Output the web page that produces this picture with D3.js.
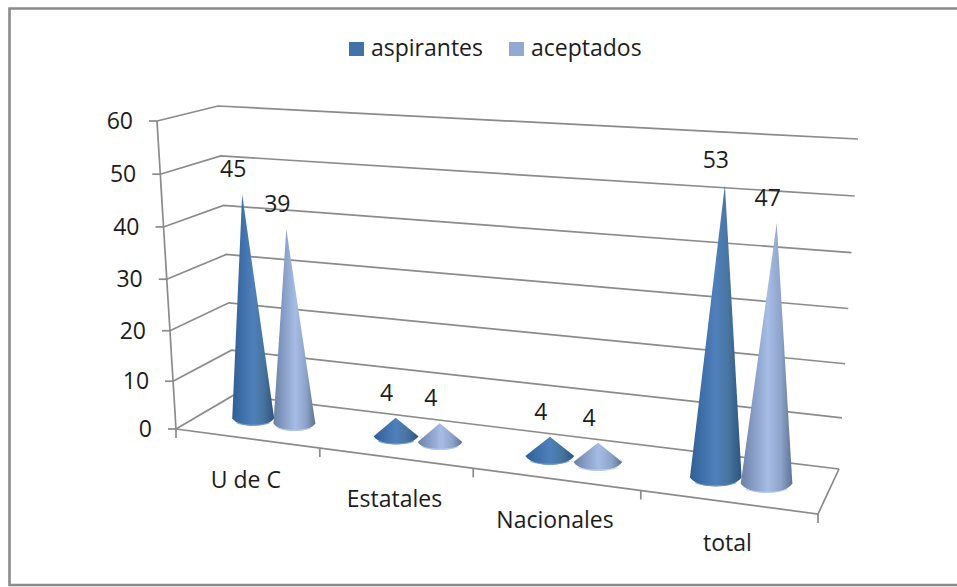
<!DOCTYPE html>
<html lang="es">
<head>
<meta charset="utf-8">
<title>Aspirantes y aceptados</title>
<script src="https://cdn.jsdelivr.net/npm/d3@7"></script>
<style>
  html, body { margin: 0; padding: 0; background: #fff; }
  svg { display: block; }
  text { font-family: "Open Sans", Lato, sans-serif; fill: #1c1c1c; }
</style>
</head>
<body>
<div id="chart"></div>
<script>
// Chart data
const categories = ["U de C", "Estatales", "Nacionales", "total"];
const seriesNames = ["aspirantes", "aceptados"];
const aspirantes = [45, 4, 4, 53];
const aceptados = [39, 4, 4, 47];
const valueTicks = [0, 10, 20, 30, 40, 50, 60];
const legendColors = ["#4272a9", "#92a9d2"];

const width = 957, height = 587;
const fontSize = 23;

const svg = d3.select("#chart").append("svg")
  .attr("width", width).attr("height", height);

// Corners of the 3D plot box: [floor, ceiling] on each vertical edge
const corners = {
  frontLeft:  [[176, 429], [157, 121]],
  frontRight: [[818, 514], [832, 164]],
  backLeft:   [[234, 395], [218, 106]],
  backRight:  [[839, 469], [858, 139]]
};

// Scales in box space: the category axis and value axis are foreshortened
const catScale = d3.scaleLinear().domain([0, 1, 2, 3, 4]).range([0, 0.224, 0.463, 0.724, 1]);
const valueScale = d3.scalePow().exponent(1.04).domain([0, 60]).range([0, 1]);

const lerp = (a, b, t) => a + (b - a) * t;
const lerpPt = (p, q, t) => [lerp(p[0], q[0], t), lerp(p[1], q[1], t)];

// Projects (category position, depth, value) to the screen
function project(cat, depth, value) {
  const u = catScale(cat), w = valueScale(value);
  const level = i => lerpPt(
    lerpPt(corners.frontLeft[i], corners.frontRight[i], u),
    lerpPt(corners.backLeft[i], corners.backRight[i], u),
    depth);
  return lerpPt(level(0), level(1), w);
}

const lineColor = "#8b8b8b";
const pathOf = d3.line();

// Outer frame, running off the right-hand side of the page
svg.append("path")
  .attr("d", pathOf([[width + 4, 8.5], [9.5, 8.5], [9.5, 585], [width + 4, 585]]))
  .attr("fill", "none").attr("stroke", lineColor).attr("stroke-width", 2.6);

// Walls: value gridlines across the left side and back
const grid = svg.append("g").attr("fill", "none").attr("stroke", lineColor).attr("stroke-width", 1.7);
valueTicks.forEach(v => {
  grid.append("path").attr("d", pathOf([project(0, 0, v), project(0, 1, v), project(4, 1, v)]));
});

// Floor outline and value axis
grid.append("path").attr("d", pathOf([project(0, 0, 0), project(4, 0, 0), project(4, 1, 0)]));
grid.append("path").attr("d", pathOf([project(0, 0, 0), project(0, 0, 60)]));

// Value axis ticks and labels
valueTicks.forEach(v => {
  const p = project(0, 0, v);
  grid.append("path").attr("d", pathOf([[p[0] - 8, p[1]], p]));
  svg.append("text")
    .attr("x", p[0] - 24).attr("y", p[1] + 8)
    .attr("text-anchor", "end").attr("font-size", fontSize).text(v);
});

// Category axis ticks and labels
d3.range(5).forEach(i => {
  const p = project(i, 0, 0);
  grid.append("path").attr("d", pathOf([p, [p[0], p[1] + 9]]));
});
categories.forEach((name, i) => {
  const p = project(i + 0.5, 0, 0);
  svg.append("text")
    .attr("x", p[0] - 2).attr("y", p[1] + 49)
    .attr("text-anchor", "middle").attr("font-size", fontSize).text(name);
});

// Horizontal shading of the cones, one gradient per series
const defs = svg.append("defs");
const shades = [
  [["0", "#2f5e93"], ["0.2", "#3b6da6"], ["0.5", "#5080bb"], ["0.75", "#47749f"], ["1", "#2e5380"]],
  [["0", "#6b7fa2"], ["0.2", "#8298c1"], ["0.52", "#a5bce5"], ["0.78", "#8ea3c9"], ["1", "#5f7293"]]
];
shades.forEach((stops, i) => {
  const g = defs.append("linearGradient").attr("id", "cone-" + i);
  stops.forEach(s => g.append("stop").attr("offset", s[0]).attr("stop-color", s[1]));
});
const rimColors = ["#6f9bd3", "#b9cdf0"];

const seriesValues = [aspirantes, aceptados];
const seriesOffset = [-0.155, 0.14];
const coneRadius = 0.15;
const coneDepth = 0.5;

// Cones, painted left to right so each one overlaps its left-hand neighbour
const coneLayer = svg.append("g");
const labelLayer = svg.append("g");
categories.forEach((_, c) => {
  seriesValues.forEach((values, s) => {
    const pos = c + 0.5 + seriesOffset[s];
    const value = values[c];
    const base = project(pos, coneDepth, 0);
    const tip = project(pos, coneDepth, value);
    const rx = (project(pos + coneRadius, coneDepth, 0)[0] - project(pos - coneRadius, coneDepth, 0)[0]) / 2;
    const ry = rx * 0.36;
    const left = [base[0] - rx, base[1]], right = [base[0] + rx, base[1]];

    const cone = d3.path();
    cone.moveTo(tip[0], tip[1]);
    cone.lineTo(left[0], left[1]);
    cone.bezierCurveTo(left[0] + rx * 0.3, base[1] + ry * 1.33, right[0] - rx * 0.3, base[1] + ry * 1.33, right[0], right[1]);
    cone.closePath();
    coneLayer.append("path").attr("d", cone.toString()).attr("fill", "url(#cone-" + s + ")");

    // Light rim along the front of the base
    const rim = d3.path();
    rim.moveTo(left[0] + rx * 0.2, base[1] + ry * 0.6);
    rim.bezierCurveTo(left[0] + rx * 0.55, base[1] + ry * 1.02, right[0] - rx * 0.55, base[1] + ry * 1.02, right[0] - rx * 0.2, base[1] + ry * 0.6);
    coneLayer.append("path").attr("d", rim.toString())
      .attr("fill", "none").attr("stroke", rimColors[s]).attr("stroke-width", 1.2).attr("opacity", 0.8);

    labelLayer.append("text")
      .attr("x", tip[0] - 9).attr("y", tip[1] - 17)
      .attr("text-anchor", "middle").attr("font-size", fontSize).text(value);
  });
});

// Legend
const legendX = [349, 509];
seriesNames.forEach((name, i) => {
  svg.append("rect")
    .attr("x", legendX[i]).attr("y", 42).attr("width", 15).attr("height", 14)
    .attr("fill", legendColors[i]);
  svg.append("text")
    .attr("x", legendX[i] + 22).attr("y", 56)
    .attr("font-size", fontSize).text(name);
});
</script>
</body>
</html>
